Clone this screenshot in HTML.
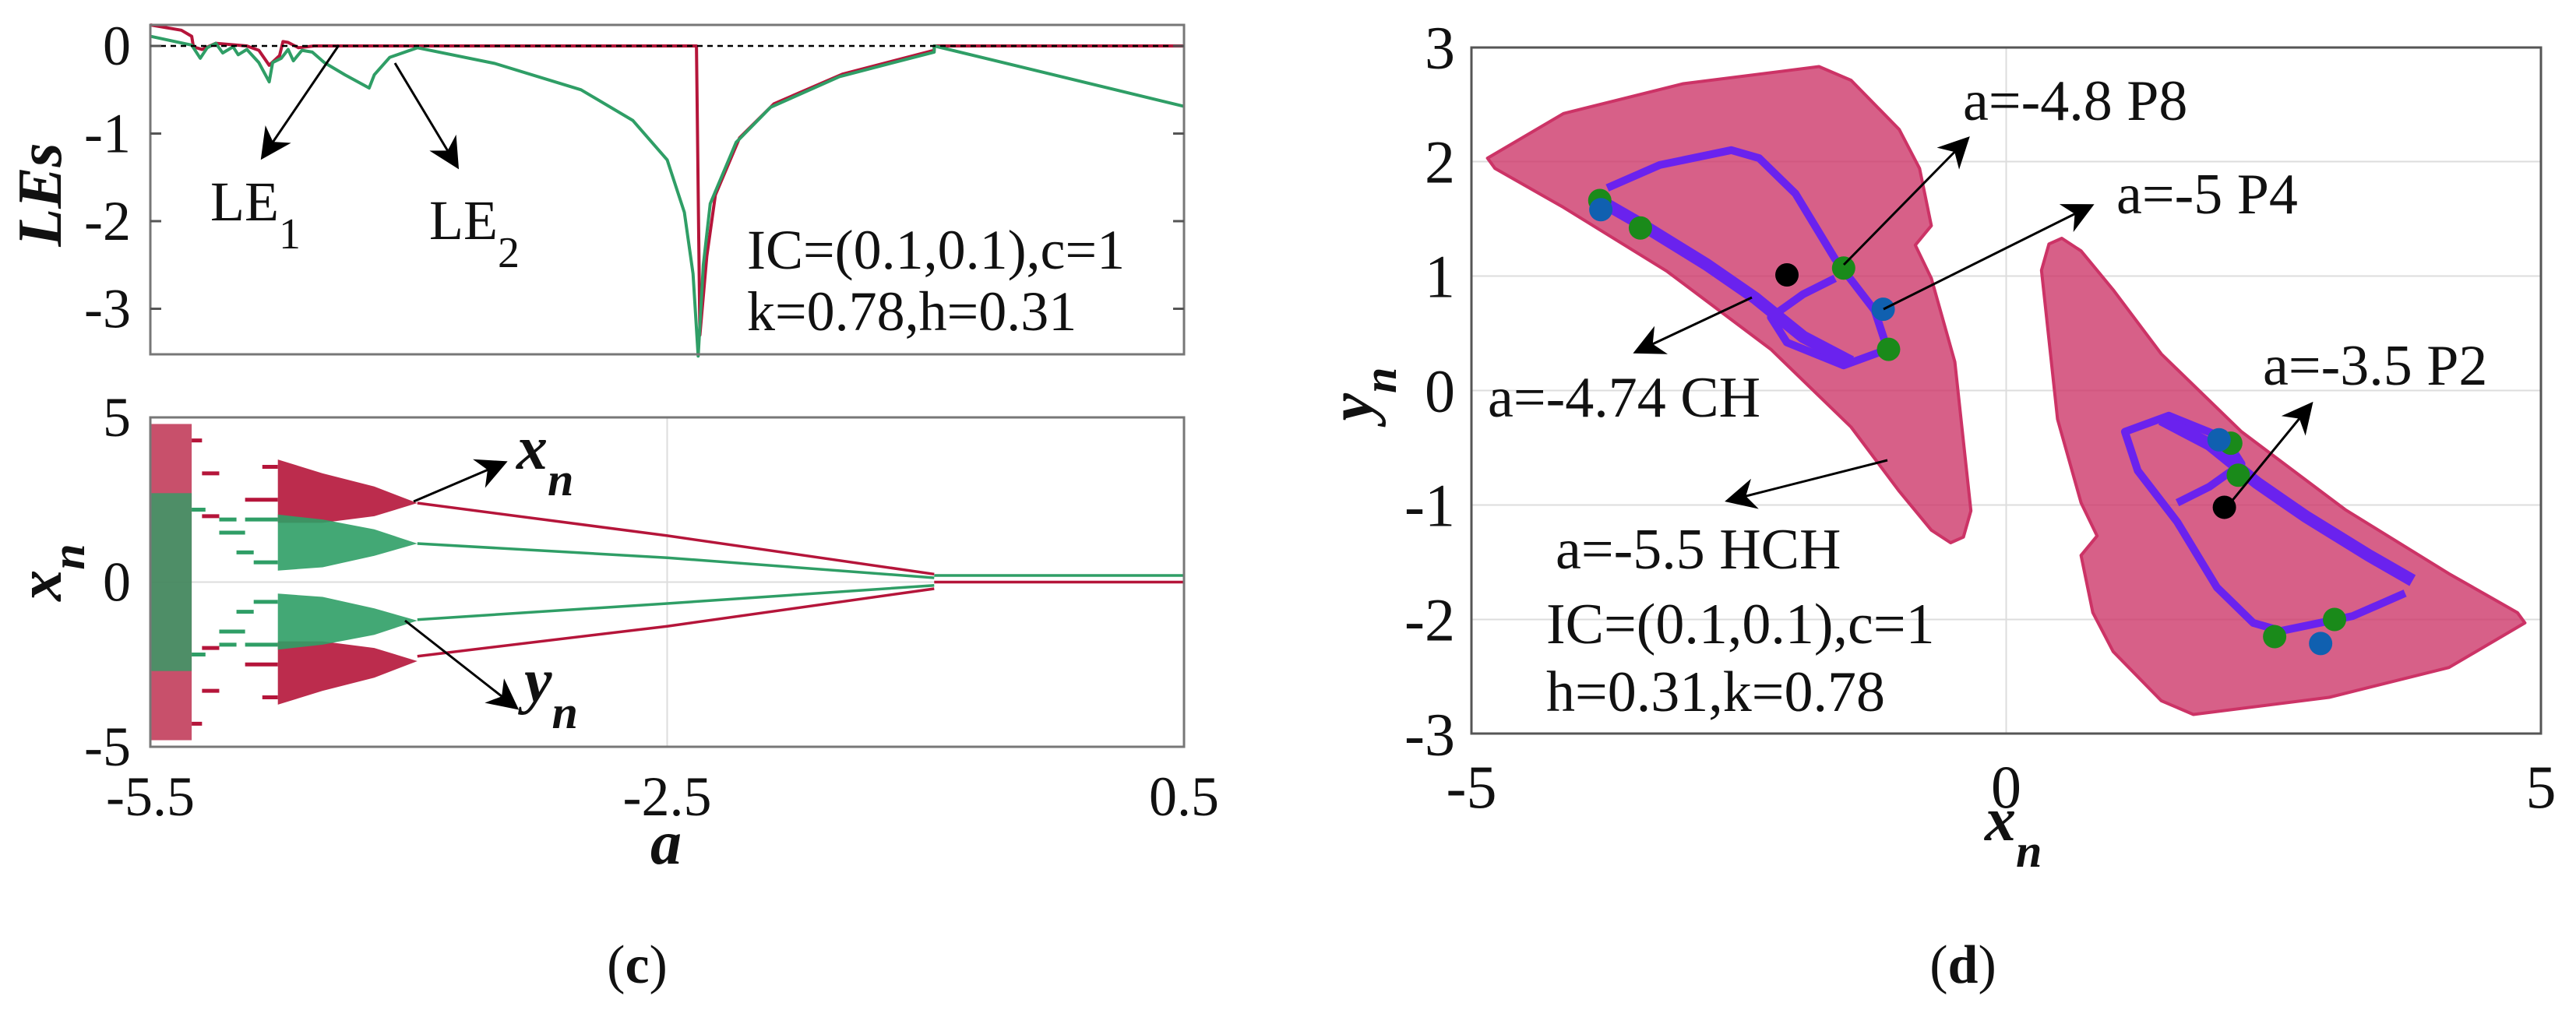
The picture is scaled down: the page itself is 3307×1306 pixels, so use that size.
<!DOCTYPE html>
<html><head><meta charset="utf-8"><style>
html,body{margin:0;padding:0;background:#fff;}
svg, svg text{font-family:"Liberation Serif","DejaVu Serif",serif;}
</style></head><body>
<svg id="fig" width="3307" height="1301" viewBox="0 0 3307 1301" xmlns="http://www.w3.org/2000/svg" font-family="Liberation Serif, DejaVu Serif, serif">
<rect width="3307" height="1301" fill="#fff"/>
<g id="gTop"></g>
<g id="gBif"></g>
<g id="gPh"></g>
<g id="gTxt" font-size="70" fill="#111">
  <text x="818" y="1262" text-anchor="middle" font-size="70">(<tspan font-weight="bold">c</tspan>)</text>
  <text x="2520" y="1262" text-anchor="middle" font-size="70">(<tspan font-weight="bold">d</tspan>)</text>
  <text transform="translate(78,250) rotate(-90)" text-anchor="middle" font-size="80" font-weight="bold" font-style="italic">LEs</text>
  <text x="270" y="283" font-size="72">LE<tspan font-size="56" dy="36">1</tspan></text>
  <text x="551" y="307" font-size="72">LE<tspan font-size="56" dy="36">2</tspan></text>
  <text x="959" y="345" font-size="72">IC=(0.1,0.1),c=1</text>
  <text x="959" y="424" font-size="72">k=0.78,h=0.31</text>
  <text transform="translate(78,735) rotate(-90)" text-anchor="middle" font-size="80" font-weight="bold" font-style="italic">x<tspan font-size="60" dy="30">n</tspan></text>
  <text x="855" y="1109" text-anchor="middle" font-size="80" font-weight="bold" font-style="italic">a</text>
  <text x="663" y="602" font-size="80" font-weight="bold" font-style="italic">x<tspan font-size="60" dy="34">n</tspan></text>
  <text x="673" y="901" font-size="80" font-weight="bold" font-style="italic">y<tspan font-size="60" dy="34">n</tspan></text>
  <text transform="translate(1762,506) rotate(-90)" text-anchor="middle" font-size="80" font-weight="bold" font-style="italic">y<tspan font-size="60" dy="30">n</tspan></text>
  <text x="2548" y="1079" font-size="80" font-weight="bold" font-style="italic">x<tspan font-size="60" dy="34">n</tspan></text>
  <text x="2520" y="154" font-size="74">a=-4.8 P8</text>
  <text x="2717" y="274" font-size="74">a=-5 P4</text>
  <text x="1910" y="535" font-size="74">a=-4.74 CH</text>
  <text x="2905" y="494" font-size="74">a=-3.5 P2</text>
  <text x="1997" y="730" font-size="74">a=-5.5 HCH</text>
  <text x="1985" y="826" font-size="74">IC=(0.1,0.1),c=1</text>
  <text x="1985" y="913" font-size="74">h=0.31,k=0.78</text>
</g>
</svg>
<script>
// ---- LE data ----
const le2A = [-5.5,-5.26,-5.21,-5.17,-5.12,-5.08,-5.02,-4.99,-4.94,-4.87,-4.81,-4.79,-4.74,-4.70,-4.67,-4.62,-4.56,-4.49,-4.37,-4.23,-4.20,-4.11,-3.95,-3.5,-3.0,-2.7,-2.5,-2.4,-2.35,-2.32,-2.29,-2.25,-2.1,-1.9,-1.5,-0.95,-0.95,0.5];
const le2V = [0.11,0.01,-0.14,-0.02,0.03,-0.08,-0.01,-0.1,-0.04,-0.19,-0.41,-0.19,-0.14,-0.04,-0.17,-0.05,-0.07,-0.19,-0.33,-0.48,-0.33,-0.13,-0.02,-0.2,-0.5,-0.85,-1.3,-1.9,-2.6,-3.54,-2.5,-1.8,-1.1,-0.7,-0.35,-0.07,0,-0.69];
const le1A = [-5.5,-5.32,-5.26,-5.25,-5.20,-5.12,-4.94,-4.87,-4.81,-4.75,-4.73,-4.70,-4.64,-4.55,-2.33,-2.31,-2.27,-2.22,-2.08,-1.88,-1.48,-0.95,-0.95,0.5];
const le1V = [0.24,0.18,0.11,-0.01,-0.04,0.03,0,-0.05,-0.22,-0.11,0.05,0.04,-0.02,0,0,-3.3,-2.4,-1.7,-1.05,-0.66,-0.32,-0.05,0,0];
const leTicks = [0,-1,-2,-3];
// ---- bifurcation data ----
const p4A = [-3.95,-2.5,-0.95];
const p4RedUp = [2.40,1.41,0.24];
const p4GreenUp = [1.17,0.74,0.13];
const p4GreenLo = [-1.14,-0.65,-0.10];
const p4RedLo = [-2.25,-1.34,-0.20];
const fixA = [-0.95,0.5];
const fixRed = [0,0];
const fixGreen = [0.2,0.2];
const bandA = [-4.76,-4.5,-4.2,-3.95];
const redBandTop = [3.72,3.3,2.9,2.4];
const redBandBot = [1.8,1.8,2.0,2.4];
const greenBandTop = [2.05,1.9,1.6,1.17];
const greenBandBot = [0.35,0.45,0.8,1.17];
const chaosA = [-5.5,-5.26];
const chaosRed = [4.8,-4.8];
const chaosGreen = [2.7,-2.7];
const winA0 = [-5.26,-5.2,-5.2,-5.1,-5.0,-4.95,-4.9,-4.85,-5.26,-5.1,-4.95];
const winA1 = [-5.2,-5.1,-5.1,-5.0,-4.9,-4.76,-4.76,-4.76,-5.18,-4.95,-4.76];
const winV  = [4.3,3.3,2.0,1.9,0.9,1.9,0.6,3.5,2.2,1.5,2.5];
const winRed = [1,1,1,0,0,0,0,1,0,0,1];
const bifTicks = [5,0,-5];
const aTicks = [-5.5,-2.5,0.5];
// ---- phase portrait data ----
const attrX = [-4.85,-4.14,-3.02,-1.75,-1.45,-1.00,-0.81,-0.70,-0.85,-0.70,-0.48,-0.33,-0.40,-0.52,-0.70,-1.00,-1.45,-2.20,-3.17,-4.14,-4.78];
const attrY = [2.03,2.42,2.68,2.83,2.71,2.28,1.94,1.44,1.27,0.98,0.25,-1.05,-1.28,-1.33,-1.22,-0.88,-0.32,0.36,1.04,1.60,1.94];
const loopX = [-3.73,-3.24,-2.57,-2.31,-1.97,-1.60,-1.23,-1.11,-1.52,-2.05,-2.20,-1.90,-1.60];
const loopY = [1.77,1.97,2.10,2.03,1.72,1.15,0.70,0.36,0.22,0.42,0.64,0.84,0.98];
const bandX = [-3.80,-3.39,-2.80,-2.35,-1.90,-1.45];
const bandY = [1.66,1.44,1.10,0.81,0.47,0.25];
const greenPX = [-3.80,-3.42,-1.52,-1.10,2.10,2.17,3.07,2.51];
const greenPY = [1.66,1.42,1.07,0.36,-0.46,-0.74,-2.0,-2.15];
const bluePX = [-3.79,-1.15,1.99,2.94];
const bluePY = [1.58,0.71,-0.43,-2.21];
const blackPX = [-2.05,2.04];
const blackPY = [1.01,-1.02];
const phTicksX = [-5,0,5];
const phTicksY = [3,2,1,0,-1,-2,-3];

const NS = "http://www.w3.org/2000/svg";
function mk(parent, tag, attrs){ const e=document.createElementNS(NS,tag); for(const k in attrs) e.setAttribute(k,attrs[k]); parent.appendChild(e); return e; }
const xL = a => 193 + (a+5.5)/6*1327;
const yT = v => 59 - v*112.5;
const yB = v => 747.5 - v*42.3;
const xR = v => 2575.5 + v*137.3;
const yR = v => 501.5 - v*147;
const RED="#b5153a", GREEN="#2f9e66";

const defs = mk(document.getElementById('fig'),'defs',{});
const mkr = mk(defs,'marker',{id:'arr',viewBox:'0 0 10 10',refX:'9',refY:'5',markerWidth:'40',markerHeight:'40',orient:'auto',markerUnits:'userSpaceOnUse'});
mk(mkr,'path',{d:'M0,0 L10,5 L0,10 L3,5 z',fill:'#000'});

function arrow(g,x1,y1,x2,y2,name){
  const l = mk(g,'line',{x1,y1,x2,y2,stroke:'#000','stroke-width':3,'marker-end':'url(#arr)'});
  
  
}
function poly(g,xs,ys,fx,fy,color,w,name){
  const pts = xs.map((x,i)=>fx(x).toFixed(1)+','+fy(ys[i]).toFixed(1)).join(' ');
  const p = mk(g,'polyline',{points:pts,fill:'none',stroke:color,'stroke-width':w,'stroke-linejoin':'round'});
  
  
  return p;
}
function label(g,x,y,t,anchor,size,name){
  const e = mk(g,'text',{x,y,'text-anchor':anchor,'font-size':size,fill:'#111','font-family':'Liberation Serif, DejaVu Serif, serif'});
  e.textContent = t;
  
  
}

// ---- top LE panel ----
const gT = document.getElementById('gTop');
poly(gT,le1A,le1V,xL,yT,RED,4,'le1-line');
poly(gT,le2A,le2V,xL,yT,GREEN,4,'le2-line');
const zl = mk(gT,'line',{x1:193,y1:yT(0),x2:1520,y2:yT(0),stroke:'#000','stroke-width':2.5,'stroke-dasharray':'7,6'});


const fT = mk(gT,'rect',{x:193,y:32,width:1327,height:423,fill:'none',stroke:'#777','stroke-width':3});


leTicks.forEach(v=>{
  mk(gT,'line',{x1:193,y1:yT(v),x2:207,y2:yT(v),stroke:'#555','stroke-width':3});
  mk(gT,'line',{x1:1506,y1:yT(v),x2:1520,y2:yT(v),stroke:'#555','stroke-width':3});
  label(gT,168,yT(v)+24,String(v),'end',72,'les-y-tick-label');
});
arrow(gT,435,58,337,202,'le1-arrow');
arrow(gT,507,81,587,214,'le2-arrow');

// ---- bifurcation panel ----
const gB = document.getElementById('gBif');
mk(gB,'line',{x1:xL(-2.5),y1:536,x2:xL(-2.5),y2:959,stroke:'#ddd','stroke-width':2});
mk(gB,'line',{x1:193,y1:yB(0),x2:1520,y2:yB(0),stroke:'#ddd','stroke-width':2});
function band(g,xs,top,bot,color,name,sign){
  const pts = xs.map((x,i)=>xL(x).toFixed(1)+','+yB(sign*top[i]).toFixed(1))
    .concat(xs.slice().reverse().map((x,j)=>{const i=xs.length-1-j; return xL(x).toFixed(1)+','+yB(sign*bot[i]).toFixed(1);})).join(' ');
  const p = mk(g,'polygon',{points:pts,fill:color,'fill-opacity':0.9});
  
  
}
const cr = mk(gB,'rect',{x:xL(chaosA[0]),y:yB(chaosRed[0]),width:xL(chaosA[1])-xL(chaosA[0]),height:yB(chaosRed[1])-yB(chaosRed[0]),fill:RED,'fill-opacity':0.75});


const cg = mk(gB,'rect',{x:xL(chaosA[0]),y:yB(chaosGreen[0]),width:xL(chaosA[1])-xL(chaosA[0]),height:yB(chaosGreen[1])-yB(chaosGreen[0]),fill:GREEN,'fill-opacity':0.8});


winV.forEach((v,i)=>{
  [1,-1].forEach(s=>{
    const l = mk(gB,'line',{x1:xL(winA0[i]),y1:yB(s*v),x2:xL(winA1[i]),y2:yB(s*v),stroke:winRed[i]?RED:GREEN,'stroke-width':5});
    
    
  });
});
band(gB,bandA,redBandTop,redBandBot,RED,'xn-chaos-band-upper',1);
band(gB,bandA,redBandTop,redBandBot,RED,'xn-chaos-band-lower',-1);
band(gB,bandA,greenBandTop,greenBandBot,GREEN,'yn-chaos-band-upper',1);
band(gB,bandA,greenBandTop,greenBandBot,GREEN,'yn-chaos-band-lower',-1);
poly(gB,p4A,p4RedUp,xL,yB,RED,3.5,'xn-branch-upper');
poly(gB,p4A,p4RedLo,xL,yB,RED,3.5,'xn-branch-lower');
poly(gB,p4A,p4GreenUp,xL,yB,GREEN,3.5,'yn-branch-upper');
poly(gB,p4A,p4GreenLo,xL,yB,GREEN,3.5,'yn-branch-lower');
poly(gB,fixA,fixGreen,xL,yB,GREEN,3.5,'yn-fixed-point');
poly(gB,fixA,fixRed,xL,yB,RED,3.5,'xn-fixed-point');
const fB = mk(gB,'rect',{x:193,y:536,width:1327,height:423,fill:'none',stroke:'#777','stroke-width':3});


bifTicks.forEach(v=>label(gB,168,yB(v)+24,String(v),'end',72,'xn-y-tick-label'));
aTicks.forEach(a=>label(gB,xL(a),1047,String(a),'middle',72,'a-x-tick-label'));
arrow(gB,531,644,648,594,'xn-arrow');
arrow(gB,520,797,663,909,'yn-arrow');

// ---- phase portrait ----
const gP = document.getElementById('gPh');
phTicksY.forEach(v=>{ const l=mk(gP,'line',{x1:1889,y1:yR(v),x2:3262,y2:yR(v),stroke:'#ddd','stroke-width':2});
    });
phTicksX.forEach(v=>{ const l=mk(gP,'line',{x1:xR(v),y1:61,x2:xR(v),y2:942,stroke:'#ddd','stroke-width':2});
    });
function attractor(sign,name){
  const pts = attrX.map((x,i)=>xR(sign*x).toFixed(1)+','+yR(sign*attrY[i]).toFixed(1)).join(' ');
  const p = mk(gP,'polygon',{points:pts,fill:'#cc3366','fill-opacity':0.78,stroke:'#cc3366','stroke-width':4,'stroke-linejoin':'round'});
  
  
}
attractor(1,'attractor-left');
attractor(-1,'attractor-right');
[1,-1].forEach(s=>{
  poly(gP,loopX.map(v=>s*v),loopY.map(v=>s*v),xR,yR,'#6a22ee',10,'periodic-orbit-loop');
  poly(gP,bandX.map(v=>s*v),bandY.map(v=>s*v),xR,yR,'#6a22ee',16,'periodic-orbit-band');
});
function dots(xs,ys,color,name){
  xs.forEach((x,i)=>{ const c=mk(gP,'circle',{cx:xR(x),cy:yR(ys[i]),r:15,fill:color});
      });
}
dots(greenPX,greenPY,'#1a8a1a','p8-point');
dots(bluePX,bluePY,'#1060b0','p4-point');
dots(blackPX,blackPY,'#000','p2-point');
const fP = mk(gP,'rect',{x:1889,y:61,width:1373,height:881,fill:'none',stroke:'#555','stroke-width':3});


phTicksY.forEach(v=>label(gP,1868,yR(v)+27,String(v),'end',78,'yn-y-tick-label'));
phTicksX.forEach(v=>label(gP,xR(v),1037,String(v),'middle',78,'xn-x-tick-label'));
arrow(gP,2367,340,2526,178,'p8-arrow');
arrow(gP,2418,397,2685,264,'p4-arrow');
arrow(gP,2249,382,2100,452,'ch-arrow');
arrow(gP,2423,591,2218,643,'hch-arrow');
arrow(gP,2859,651,2967,519,'p2-arrow');
</script>
</body></html>
